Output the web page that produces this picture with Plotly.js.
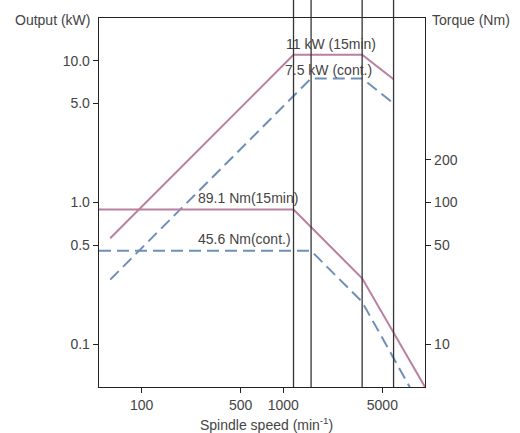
<!DOCTYPE html>
<html>
<head>
<meta charset="utf-8">
<script src="https://cdn.plot.ly/plotly-3.0.1.min.js"></script>
<style>html,body{margin:0;padding:0;background:#fff;}#chart{width:520px;height:433px;}</style>
</head>
<body>
<div id="chart"></div>
<script>
// Spindle speed (min^-1)
var outMaxSpeed = [60, 1180, 3600, 6000];
var outMaxKW    = [0.56, 11, 11, 7.4];
var outContSpeed = [60, 1570, 3600, 6000];
var outContKW    = [0.286, 7.5, 7.5, 5.0];
var trqMaxSpeed = [50, 1180, 3600, 10000];
var trqMaxNm    = [89.1, 89.1, 29.2, 5.0];
var trqContSpeed = [50, 1570, 3600, 7800];
var trqContNm    = [45.6, 45.6, 19.9, 5.0];
var markerSpeeds = [1180, 1570, 3600, 6000];
var xTicks = [100, 500, 1000, 5000];
var yTicks = [0.1, 0.5, 1, 5, 10];
var yTickText = ['0.1', '0.5', '1.0', '5.0', '10.0'];
var y2Ticks = [10, 50, 100, 200];

var pink = '#b9809f', blue = '#6e8fb8';
var font = {family: 'Liberation Sans, Arial, sans-serif', size: 14, color: '#444'};

var traces = [
  {x: outMaxSpeed, y: outMaxKW, mode: 'lines', line: {color: pink, width: 2}, yaxis: 'y'},
  {x: outContSpeed, y: outContKW, mode: 'lines', line: {color: blue, width: 2, dash: '12px,6px'}, yaxis: 'y'},
  {x: trqMaxSpeed, y: trqMaxNm, mode: 'lines', line: {color: pink, width: 2}, yaxis: 'y2'},
  {x: trqContSpeed, y: trqContNm, mode: 'lines', line: {color: blue, width: 2, dash: '12px,6px'}, yaxis: 'y2'}
];

var shapes = markerSpeeds.map(function(s){
  return {type: 'line', xref: 'x', yref: 'paper', x0: s, x1: s, y0: 0, y1: 1.06,
          line: {color: '#333', width: 1.3}, layer: 'above'};
});

function ann(text, x, y, xanchor) {
  return {text: text, xref: 'paper', yref: 'paper', x: x, y: y,
          xanchor: xanchor || 'center', yanchor: 'middle', showarrow: false, font: font};
}

var layout = {
  width: 520, height: 433,
  margin: {l: 99, r: 95, t: 18, b: 46},
  paper_bgcolor: '#fff', plot_bgcolor: '#fff',
  showlegend: false,
  font: font,
  xaxis: {type: 'log', range: [Math.log10(50), Math.log10(10000)],
          tickvals: xTicks, ticktext: xTicks.map(String),
          ticks: 'outside', ticklen: 5, tickcolor: '#222',
          showline: true, linecolor: '#222', linewidth: 1.3, mirror: true,
          showgrid: false, zeroline: false, tickfont: font},
  yaxis: {type: 'log', range: [Math.log10(0.05), Math.log10(20)],
          tickvals: yTicks, ticktext: yTickText,
          ticks: 'outside', ticklen: 5, tickcolor: '#222',
          showline: true, linecolor: '#222', linewidth: 1.3,
          showgrid: false, zeroline: false, tickfont: font},
  yaxis2: {type: 'log', range: [Math.log10(5), Math.log10(2000)], overlaying: 'y', side: 'right',
          tickvals: y2Ticks, ticktext: y2Ticks.map(String),
          ticks: 'outside', ticklen: 5, tickcolor: '#222',
          showline: true, linecolor: '#222', linewidth: 1.3,
          showgrid: false, zeroline: false, tickfont: font},
  shapes: shapes,
  annotations: [
    ann('11 kW (15min)', 0.7117, 0.9304),
    ann('7.5 kW (cont.)', 0.7055, 0.8583),
    ann('89.1 Nm(15min)', 0.457, 0.5114),
    ann('45.6 Nm(cont.)', 0.447, 0.401),
    ann('Output (kW)', -0.0215, 0.9946, 'right'),
    ann('Torque (Nm)', 1.0153, 0.9946, 'left'),
    ann('Spindle speed (min<sup>-1</sup>)', 0.515, -0.1003)
  ]
};

Plotly.newPlot('chart', traces, layout, {staticPlot: true, displayModeBar: false});
</script>
</body>
</html>
